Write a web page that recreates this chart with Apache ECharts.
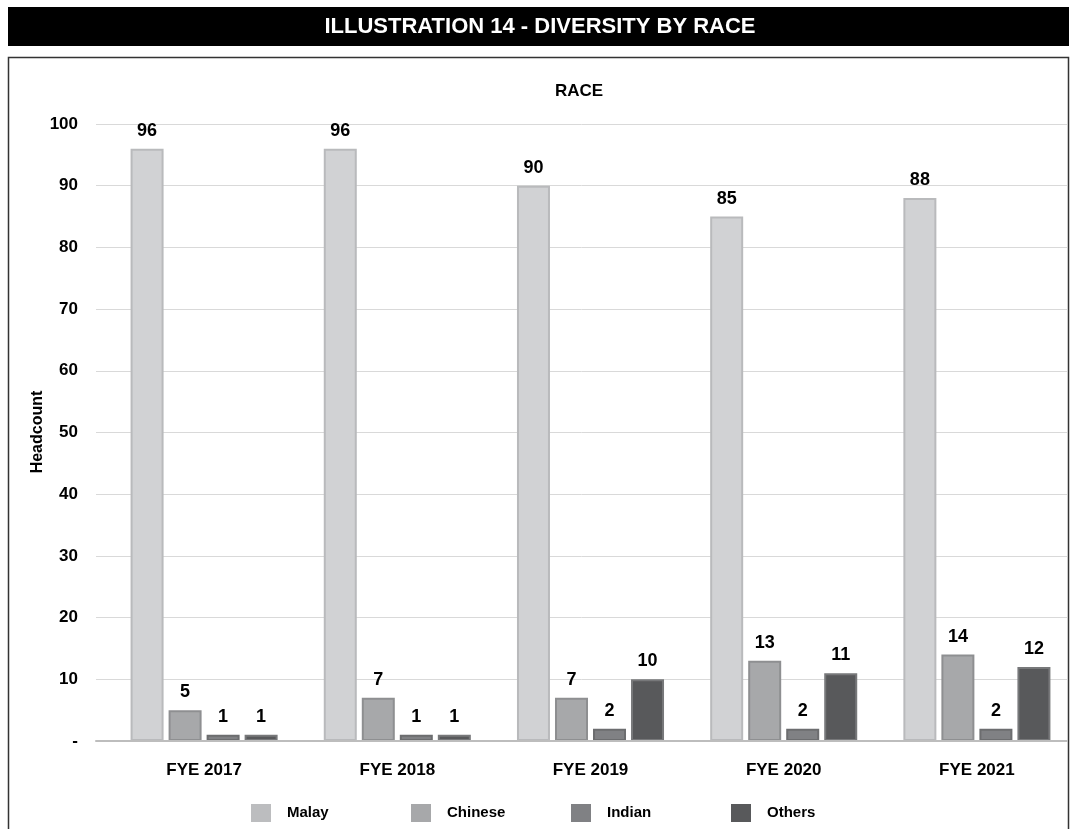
<!DOCTYPE html>
<html>
<head>
<meta charset="utf-8">
<script src="https://cdn.jsdelivr.net/npm/echarts@6/dist/echarts.min.js"></script>
<style>
  html, body { margin: 0; padding: 0; background: #ffffff; }
  #chart { width: 1077px; height: 829px; }
</style>
</head>
<body>
<div id="chart"></div>
<script>
// Headcount by race, per financial year end
const categories = ['FYE 2017', 'FYE 2018', 'FYE 2019', 'FYE 2020', 'FYE 2021'];
const malay   = [96, 96, 90, 85, 88];
const chinese = [5, 7, 7, 13, 14];
const indian  = [1, 1, 2, 2, 2];
const others  = [1, 1, 10, 11, 12];
const yTicks  = [0, 10, 20, 30, 40, 50, 60, 70, 80, 90, 100];

const FONT = '"Liberation Sans", Arial, Helvetica, sans-serif';

const seriesDefs = [
  { name: 'Malay',   data: malay,   fill: '#d1d2d4', edge: '#b9babc', key: '#bcbdbf' },
  { name: 'Chinese', data: chinese, fill: '#a7a8aa', edge: '#8e8f91', key: '#a7a8aa' },
  { name: 'Indian',  data: indian,  fill: '#808184', edge: '#6c6d6f', key: '#808184' },
  { name: 'Others',  data: others,  fill: '#58595b', edge: '#77787a', key: '#58595b' }
];

const legendLeft = [246, 406, 566, 726];

const chart = echarts.init(document.getElementById('chart'), null, { renderer: 'canvas' });

chart.setOption({
  animation: false,
  backgroundColor: '#ffffff',
  graphic: [
    // black heading banner
    { type: 'rect', left: 8, top: 7, shape: { width: 1061, height: 39 }, style: { fill: '#000000' }, z: 0 },
    { type: 'text', x: 540, y: 27, style: {
        text: 'ILLUSTRATION 14 - DIVERSITY BY RACE', fill: '#ffffff',
        font: 'bold 22px ' + FONT, align: 'center', verticalAlign: 'middle' }, z: 1 },
    // chart frame
    { type: 'rect', shape: { x: 8.5, y: 57.5, width: 1060, height: 790 },
      style: { fill: null, stroke: '#333333', lineWidth: 1.5 }, z: 0 },
    // chart title
    { type: 'text', x: 579, y: 91, style: {
        text: 'RACE', fill: '#000000', font: 'bold 17px ' + FONT,
        align: 'center', verticalAlign: 'middle' }, z: 1 },
    // value axis title
    { type: 'text', x: 38, y: 432, rotation: Math.PI / 2, style: {
        text: 'Headcount', fill: '#000000', font: 'bold 16px ' + FONT,
        align: 'center', verticalAlign: 'middle' }, z: 1 }
  ],
  legend: seriesDefs.map((s, i) => ({
    data: [{ name: s.name, itemStyle: { color: s.key, borderWidth: 0 } }],
    left: legendLeft[i],
    top: 799,
    icon: 'rect',
    itemWidth: 20,
    itemHeight: 18,
    selectedMode: false,
    textStyle: { color: '#000000', fontFamily: FONT, fontWeight: 'bold', fontSize: 15, padding: [0, 0, 0, 11] }
  })),
  grid: [
    // gridlines and value labels
    { left: 96, right: 10, top: 124, bottom: 88 },
    // bars and category labels
    { left: 107.5, right: 3.5, top: 124, bottom: 88 }
  ],
  xAxis: [
    {
      type: 'category', gridIndex: 0, data: categories,
      axisLine: { show: true, lineStyle: { color: '#bdbdbd', width: 2 } },
      axisTick: { show: false }, axisLabel: { show: false }, splitLine: { show: false },
      z: 5
    },
    {
      type: 'category', gridIndex: 1, data: categories,
      axisLine: { show: false }, axisTick: { show: false }, splitLine: { show: false },
      axisLabel: { color: '#000000', fontFamily: FONT, fontWeight: 'bold', fontSize: 17, margin: 21 }
    }
  ],
  yAxis: [
    {
      type: 'value', gridIndex: 0, min: 0, max: 100, interval: 10,
      axisLine: { show: false }, axisTick: { show: false },
      splitLine: { show: true, lineStyle: { color: '#d9d9d9', width: 1 } },
      axisLabel: {
        color: '#000000', fontFamily: FONT, fontWeight: 'bold', fontSize: 17, margin: 18,
        formatter: v => (yTicks.indexOf(v) === 0 ? '-' : String(v))
      }
    },
    {
      type: 'value', gridIndex: 1, min: 0, max: 100, interval: 10,
      axisLine: { show: false }, axisTick: { show: false },
      splitLine: { show: false }, axisLabel: { show: false }
    }
  ],
  series: seriesDefs.map(s => ({
    name: s.name,
    type: 'bar',
    xAxisIndex: 1,
    yAxisIndex: 1,
    data: s.data,
    barWidth: 33,
    barGap: '15.2%',
    itemStyle: { color: s.fill, borderColor: s.edge, borderWidth: 2 },
    label: {
      show: true, position: 'top', distance: 9,
      color: '#000000', fontFamily: FONT, fontWeight: 'bold', fontSize: 18
    }
  }))
});
</script>
</body>
</html>
